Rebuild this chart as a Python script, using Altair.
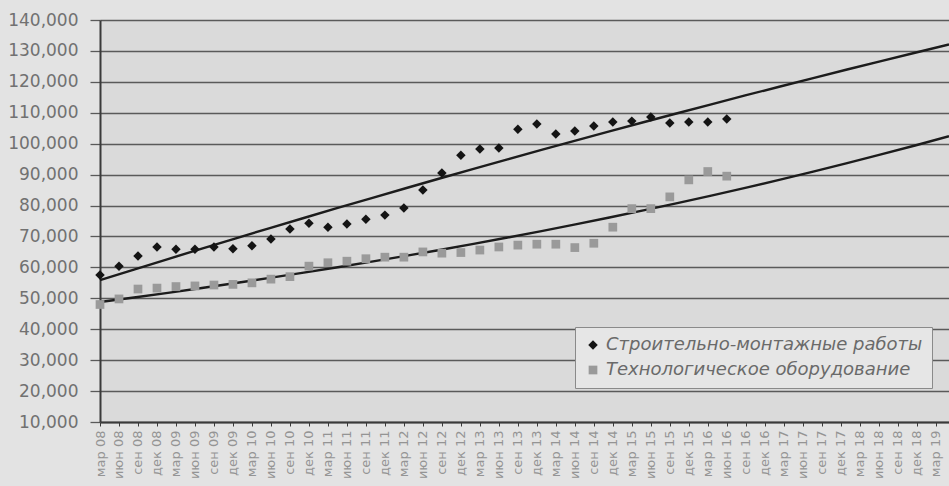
import altair as alt
import pandas as pd

# Quarterly category labels, March 2008 .. March 2019
quarters = [
    "мар 08", "июн 08", "сен 08", "дек 08",
    "мар 09", "июн 09", "сен 09", "дек 09",
    "мар 10", "июн 10", "сен 10", "дек 10",
    "мар 11", "июн 11", "сен 11", "дек 11",
    "мар 12", "июн 12", "сен 12", "дек 12",
    "мар 13", "июн 13", "сен 13", "дек 13",
    "мар 14", "июн 14", "сен 14", "дек 14",
    "мар 15", "июн 15", "сен 15", "дек 15",
    "мар 16", "июн 16", "сен 16", "дек 16",
    "мар 17", "июн 17", "сен 17", "дек 17",
    "мар 18", "июн 18", "сен 18", "дек 18",
    "мар 19",
]

series_names = ["Строительно-монтажные работы", "Технологическое оборудование"]

# Observed values, March 2008 .. June 2016
construction = [
    57500, 60400, 63700, 66600, 65900, 65900, 66600, 66000, 67000, 69200,
    72400, 74300, 73000, 74000, 75600, 76900, 79200, 85000, 90500, 96300,
    98300, 98600, 104700, 106400, 103100, 104100, 105700, 107000, 107300, 108600,
    106700, 107000, 107000, 108000,
]
equipment = [
    48000, 49800, 53000, 53300, 53800, 54000, 54300, 54500, 55000, 56200,
    57000, 60400, 61500, 62000, 62800, 63300, 63300, 65000, 64600, 64800,
    65600, 66600, 67200, 67500, 67500, 66400, 67800, 73000, 79000, 79000,
    82800, 88300, 91000, 89500,
]

rows = []
for i, v in enumerate(construction):
    rows.append({"t": i, "value": v, "series": series_names[0]})
for i, v in enumerate(equipment):
    rows.append({"t": i, "value": v, "series": series_names[1]})
df = pd.DataFrame(rows)

x_end = 44.7
label_expr = "[" + ",".join("'%s'" % q for q in quarters) + "][datum.value]"

x_enc = alt.X(
    "t:Q",
    scale=alt.Scale(domain=[0, x_end], nice=False, zero=False),
    axis=alt.Axis(
        values=list(range(len(quarters))),
        labelExpr=label_expr,
        labelAngle=270,
        labelOverlap=False,
        labelFont="DejaVu Sans",
        labelFontSize=13,
        labelColor="#949494",
        labelPadding=4,
        grid=False,
        domainColor="#3a3a3a",
        domainWidth=2,
        tickColor="#3a3a3a",
        tickSize=4,
        title=None,
    ),
)
y_enc = alt.Y(
    "value:Q",
    scale=alt.Scale(domain=[10000, 140000], nice=False, zero=False),
    axis=alt.Axis(
        values=list(range(10000, 140001, 10000)),
        format=",.0f",
        labelOverlap=False,
        labelFont="DejaVu Sans",
        labelFontSize=17,
        labelColor="#717171",
        labelPadding=12,
        grid=True,
        gridColor="#5a5a5a",
        gridWidth=1.3,
        domainColor="#3a3a3a",
        domainWidth=2,
        tickColor="#5a5a5a",
        tickSize=10,
        tickWidth=1.3,
        title=None,
    ),
)

# Every layer shares the same positional encodings so the axes merge cleanly
base = alt.Chart(df).encode(x=x_enc, y=y_enc)

points = base.mark_point(filled=True, opacity=1, strokeWidth=0).encode(
    shape=alt.Shape(
        "series:N",
        scale=alt.Scale(domain=series_names, range=["diamond", "square"]),
        legend=alt.Legend(title=None),
    ),
    color=alt.Color(
        "series:N",
        scale=alt.Scale(domain=series_names, range=["#141414", "#9a9a9a"]),
        legend=alt.Legend(title=None),
    ),
    size=alt.Size(
        "series:N",
        scale=alt.Scale(domain=series_names, range=[90, 76]),
        legend=None,
    ),
)

# Quadratic trend for construction works, exponential trend for equipment
trend_construction = (
    base.transform_filter(alt.datum.series == series_names[0])
    .transform_regression("t", "value", method="poly", order=2, extent=[0, x_end])
    .mark_line(color="#1c1c1c", strokeWidth=2.4)
)
trend_equipment = (
    base.transform_filter(alt.datum.series == series_names[1])
    .transform_regression("t", "value", method="exp", extent=[0, x_end])
    .mark_line(color="#1c1c1c", strokeWidth=2.4)
)

chart = (
    alt.layer(trend_construction, trend_equipment, points)
    .properties(
        width=849,
        height=402,
        autosize=alt.AutoSizeParams(type="none"),
        padding={"left": 100, "top": 20, "right": 0, "bottom": 64},
        background="#e3e3e3",
    )
    .configure_view(fill="#dadada", stroke=None)
    .configure_legend(
        orient="none",
        legendX=475,
        legendY=307,
        fillColor="#e6e6e6",
        strokeColor="#8a8a8a",
        padding=9,
        labelFont="DejaVu Sans",
        labelFontStyle="italic",
        labelFontSize=18,
        labelColor="#6a6a6a",
        labelLimit=420,
        rowPadding=7,
        symbolSize=80,
        symbolStrokeWidth=0,
        cornerRadius=0,
    )
)

chart.save("out.html", embed_options={"renderer": "svg", "actions": False})
